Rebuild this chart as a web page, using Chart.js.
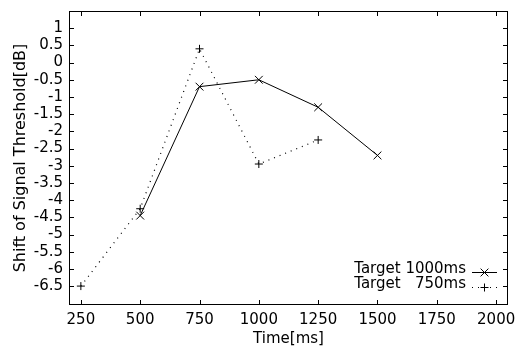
<!DOCTYPE html>
<html>
<head>
<meta charset="utf-8">
<script src="https://cdn.jsdelivr.net/npm/chart.js@4.4.0/dist/chart.umd.min.js"></script>
<style>
  html, body { margin: 0; padding: 0; background: #fff; }
  #wrap { width: 523px; height: 347px; }
</style>
</head>
<body>
<div id="wrap"><canvas id="chart"></canvas></div>
<script>
// values
const timesLong = [500, 750, 1000, 1250, 1500];
const shiftLong = [-4.45, -0.7, -0.5, -1.3, -2.7];
const timesShort = [250, 500, 750, 1000, 1250];
const shiftShort = [-6.5, -4.25, 0.4, -2.95, -2.25];

const xTicks = [250, 500, 750, 1000, 1250, 1500, 1750, 2000];
const yTicks = [-6.5, -6, -5.5, -5, -4.5, -4, -3.5, -3, -2.5, -2, -1.5, -1, -0.5, 0, 0.5, 1];
const seriesNames = ['Target 1000ms', 'Target   750ms'];

const FONT = 'DejaVu Sans';

// gnuplot style frame: box with inward ticks on all four sides
const framePlugin = {
    id: 'frame',
    afterDatasetsDraw(chart) {
        const { ctx, chartArea: a, scales: { x, y } } = chart;
        const len = 5;
        ctx.save();
        ctx.strokeStyle = '#000';
        ctx.lineWidth = 1;
        ctx.strokeRect(a.left + 0.5, a.top + 0.5, a.right - a.left - 1, a.bottom - a.top - 1);
        ctx.beginPath();
        xTicks.forEach(v => {
            const px = Math.round(x.getPixelForValue(v)) + 0.5;
            ctx.moveTo(px, a.bottom);
            ctx.lineTo(px, a.bottom - len);
            ctx.moveTo(px, a.top);
            ctx.lineTo(px, a.top + len);
        });
        yTicks.forEach(v => {
            const py = Math.round(y.getPixelForValue(v)) + 0.5;
            ctx.moveTo(a.left, py);
            ctx.lineTo(a.left + len, py);
            ctx.moveTo(a.right, py);
            ctx.lineTo(a.right - len, py);
        });
        ctx.stroke();
        ctx.restore();
    }
};

// key in the lower right corner, text right aligned, sample on the right
const keyPlugin = {
    id: 'key',
    afterDraw(chart) {
        const { ctx } = chart;
        const textRight = 466;
        const rows = [269, 284];
        ctx.save();
        ctx.font = `15px "${FONT}"`;
        ctx.fillStyle = '#000';
        ctx.textAlign = 'right';
        ctx.textBaseline = 'middle';
        chart.data.datasets.forEach((ds, i) => {
            ctx.fillText(ds.label, textRight, rows[i]);
            const ly = rows[i] + 3.5;
            ctx.save();
            ctx.strokeStyle = ds.borderColor;
            ctx.lineWidth = ds.borderWidth;
            ctx.setLineDash(ds.borderDash || []);
            ctx.beginPath();
            ctx.moveTo(472, ly);
            ctx.lineTo(497, ly);
            ctx.stroke();
            ctx.restore();
            Chart.helpers.drawPoint(ctx, {
                pointStyle: ds.pointStyle,
                radius: ds.pointRadius,
                borderWidth: 1,
                rotation: 0
            }, 484.5, ly);
        });
        ctx.restore();
    }
};

const noPadding = axis => {
    axis.paddingTop = 0;
    axis.paddingBottom = 0;
    axis.paddingLeft = 0;
    axis.paddingRight = 0;
};

new Chart(document.getElementById('chart'), {
    type: 'line',
    data: {
        datasets: [
            {
                label: seriesNames[0],
                data: timesLong.map((t, i) => ({ x: t, y: shiftLong[i] })),
                borderColor: '#000',
                backgroundColor: '#000',
                borderWidth: 1,
                pointStyle: 'crossRot',
                pointRadius: 5.5,
                pointBorderWidth: 1,
                pointBorderColor: '#000',
                tension: 0,
                fill: false
            },
            {
                label: seriesNames[1],
                data: timesShort.map((t, i) => ({ x: t, y: shiftShort[i] })),
                borderColor: '#000',
                backgroundColor: '#000',
                borderWidth: 1.2,
                borderDash: [1, 5],
                pointStyle: 'cross',
                pointRadius: 4,
                pointBorderWidth: 1,
                pointBorderColor: '#000',
                tension: 0,
                fill: false
            }
        ]
    },
    options: {
        responsive: true,
        maintainAspectRatio: false,
        animation: false,
        devicePixelRatio: 1,
        layout: { padding: { top: 11, right: 15, left: 0, bottom: 0 } },
        plugins: {
            legend: { display: false },
            tooltip: { enabled: false }
        },
        scales: {
            x: {
                type: 'linear',
                min: 200,
                max: 2050,
                afterBuildTicks: axis => { axis.ticks = xTicks.map(v => ({ value: v })); },
                afterFit: axis => { axis.height = 42; noPadding(axis); },
                grid: { display: false, drawTicks: false },
                border: { display: false },
                ticks: {
                    color: '#000',
                    padding: 6,
                    autoSkip: false,
                    maxRotation: 0,
                    callback: v => String(v),
                    font: { family: FONT, size: 15 }
                },
                title: {
                    display: true,
                    text: 'Time[ms]',
                    color: '#000',
                    font: { family: FONT, size: 15 },
                    padding: { top: 0, bottom: -1 }
                }
            },
            y: {
                type: 'linear',
                min: -7.05,
                max: 1.5,
                afterBuildTicks: axis => { axis.ticks = yTicks.map(v => ({ value: v })); },
                afterFit: axis => { axis.width = 69; noPadding(axis); },
                grid: { display: false, drawTicks: false },
                border: { display: false },
                ticks: {
                    color: '#000',
                    padding: 6,
                    autoSkip: false,
                    callback: v => String(v),
                    font: { family: FONT, size: 15 }
                },
                title: {
                    display: true,
                    text: 'Shift of Signal Threshold[dB]',
                    color: '#000',
                    font: { family: FONT, size: 16 },
                    padding: { top: 11, bottom: 0 }
                }
            }
        }
    },
    plugins: [framePlugin, keyPlugin]
});
</script>
</body>
</html>
